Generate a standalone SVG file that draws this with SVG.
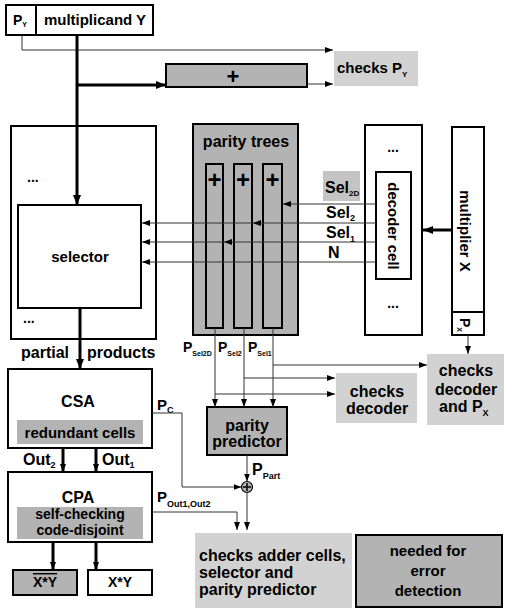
<svg xmlns="http://www.w3.org/2000/svg" width="506" height="612" viewBox="0 0 506 612">
<style>
text{font-family:"Liberation Sans",Arial,sans-serif;font-weight:bold;fill:#000}
.box{fill:#fff;stroke:#000;stroke-width:2}
.dk{fill:#b3b3b3;stroke:#000;stroke-width:2}
.lt{fill:#d2d2d2;stroke:none}
.mg{fill:#b3b3b3;stroke:none}
.ln{fill:none;stroke:#333;stroke-width:1}
.th{fill:none;stroke:#000;stroke-width:3}
.c{text-anchor:middle}
</style>
<defs>
<marker id="a" markerUnits="userSpaceOnUse" markerWidth="8" markerHeight="6" refX="8" refY="3" orient="auto"><path d="M0,0L8,3L0,6z" fill="#000"/></marker>
<marker id="b" markerUnits="userSpaceOnUse" markerWidth="10" markerHeight="8" refX="10" refY="4" orient="auto"><path d="M0,0L10,4L0,8z" fill="#000"/></marker>
</defs>

<g id="py"><rect class="box" x="6" y="5" width="30" height="30"/><text x="13" y="25" font-size="14">P<tspan font-size="7" dy="2">Y</tspan></text></g>
<g id="multiplicand"><rect class="box" x="36" y="5" width="117" height="30"/><text class="c" x="95" y="25" font-size="15">multiplicand Y</text></g>
<g id="plusbox"><rect class="dk" x="166" y="64" width="141" height="23"/><text class="c" x="233" y="84" font-size="22">+</text></g>
<g id="checkspy"><rect class="lt" x="334" y="51" width="84" height="35"/><text x="337" y="73" font-size="15">checks P<tspan font-size="8" dy="4">Y</tspan></text></g>

<g id="selarray"><rect class="box" x="11" y="126" width="145" height="213"/><text x="27" y="182" font-size="14">...</text><text x="23" y="323" font-size="14">...</text></g>
<g id="selector"><rect class="box" x="18" y="205" width="123" height="103"/><text class="c" x="80" y="262" font-size="15">selector</text></g>
<g id="pplabel"><text x="21" y="358" font-size="16">partial</text><text x="87" y="358" font-size="16">products</text></g>

<g id="paritytrees"><rect class="dk" x="193" y="124" width="105" height="211"/><text class="c" x="246" y="147" font-size="16">parity trees</text>
<rect class="dk" x="206" y="164" width="17" height="164"/><rect class="dk" x="234" y="164" width="18" height="164"/><rect class="dk" x="263" y="164" width="19" height="164"/>
<text class="c" x="214.5" y="188" font-size="24">+</text><text class="c" x="243" y="188" font-size="24">+</text><text class="c" x="272.5" y="188" font-size="24">+</text></g>

<g id="decoder"><rect class="box" x="365" y="125" width="57" height="210"/><text class="c" x="393" y="152" font-size="14">...</text><text class="c" x="393" y="308" font-size="14">...</text>
<rect class="box" x="376" y="172" width="35" height="107"/><text class="c" transform="translate(388,226) rotate(90)" font-size="15">decoder cell</text></g>
<g id="multx"><rect class="box" x="452" y="127" width="32" height="208"/><line x1="452" y1="312" x2="484" y2="312" stroke="#000" stroke-width="2"/>
<text class="c" transform="translate(460,231) rotate(90)" font-size="15">multiplier X</text>
<text transform="translate(460,318) rotate(90)" font-size="14">P<tspan font-size="7" dy="3">X</tspan></text></g>

<g id="sel2d"><rect fill="#c4c4c4" x="323" y="171" width="37" height="30"/><text x="325" y="193" font-size="16">Sel<tspan font-size="8" dy="3">2D</tspan></text></g>
<g id="sellabels"><text x="326" y="218" font-size="16">Sel<tspan font-size="9" dy="3">2</tspan></text><text x="326" y="238" font-size="16">Sel<tspan font-size="9" dy="4">1</tspan></text><text x="328" y="258" font-size="16">N</text></g>

<g id="plabels"><text x="183" y="352" font-size="14">P<tspan font-size="7" dy="4">Sel2D</tspan></text><text x="218" y="352" font-size="14">P<tspan font-size="7" dy="4">Sel2</tspan></text><text x="248" y="352" font-size="14">P<tspan font-size="7" dy="4">Sel1</tspan></text></g>

<g id="checksdec"><rect class="lt" x="336" y="373" width="81" height="50"/><text class="c" x="377" y="397" font-size="16">checks</text><text class="c" x="377" y="414" font-size="16">decoder</text></g>
<g id="checksdecpx"><rect class="lt" x="427" y="354" width="77" height="71"/><text class="c" x="466" y="376" font-size="16">checks</text><text class="c" x="466" y="395" font-size="16">decoder</text><text x="439" y="412" font-size="16">and P<tspan font-size="9" dy="4">X</tspan></text></g>

<g id="predictor"><rect class="dk" x="207" y="407" width="80" height="48"/><text class="c" x="247" y="431" font-size="16">parity</text><text class="c" x="247" y="447" font-size="16">predictor</text></g>

<g id="csa"><rect class="box" x="8" y="369" width="144" height="79"/><text class="c" x="78" y="407" font-size="16">CSA</text><rect class="mg" x="17" y="420" width="126" height="24"/><text class="c" x="80" y="438" font-size="15">redundant cells</text></g>
<g id="outlabels"><text x="23" y="465" font-size="16">Out<tspan font-size="9" dy="3">2</tspan></text><text x="102" y="465" font-size="16">Out<tspan font-size="9" dy="3">1</tspan></text></g>
<g id="cpa"><rect class="box" x="8" y="472" width="144" height="70"/><text class="c" x="78" y="503" font-size="16">CPA</text><rect class="mg" x="17" y="507" width="126" height="32"/><text class="c" x="80" y="519" font-size="14">self-checking</text><text class="c" x="80" y="535" font-size="14">code-disjoint</text></g>
<g id="xyneg"><rect class="dk" x="13" y="570" width="64" height="25"/><text class="c" x="45" y="587" font-size="14" style="text-decoration:overline">X*Y</text></g>
<g id="xy"><rect class="box" x="88" y="570" width="64" height="25"/><text class="c" x="120" y="587" font-size="14">X*Y</text></g>

<g id="pc"><text x="157" y="410" font-size="15">P<tspan font-size="9" dy="3">C</tspan></text></g>
<g id="pout"><text x="157" y="502" font-size="15">P<tspan font-size="9" dy="5">Out1,Out2</tspan></text></g>
<g id="ppart"><text x="252" y="475" font-size="16">P<tspan font-size="9" dy="4">Part</tspan></text></g>
<g id="xor"><circle cx="247" cy="487" r="5.5" fill="#b3b3b3" stroke="#000" stroke-width="1.2"/><path d="M243,487H251M247,483V491" stroke="#000" stroke-width="1.5"/></g>

<g id="checksadder"><rect class="lt" x="195" y="533" width="157" height="75"/><text x="199" y="561" font-size="16">checks adder cells,</text><text x="199" y="578" font-size="16">selector and</text><text x="199" y="595" font-size="16">parity predictor</text></g>
<g id="needed"><rect class="dk" x="356" y="535" width="146" height="72"/><text class="c" x="428" y="556" font-size="15">needed for</text><text class="c" x="428" y="576" font-size="15">error</text><text class="c" x="428" y="596" font-size="15">detection</text></g>

<g id="connectors">
<path class="ln" d="M22,35V50H333" stroke="#000" marker-end="url(#a)"/>
<path class="th" d="M77,35V205" marker-end="url(#b)"/>
<path class="th" d="M77,85H166" marker-end="url(#b)"/>
<path class="ln" d="M307,84H333" marker-end="url(#a)"/>
<path class="ln" d="M376,204H283" marker-end="url(#a)"/>
<path class="ln" d="M376,223H253" marker-end="url(#a)"/>
<path class="ln" d="M253,223H142" marker-end="url(#a)"/>
<path class="ln" d="M376,242H224" marker-end="url(#a)"/>
<path class="ln" d="M224,242H142" marker-end="url(#a)"/>
<path class="ln" d="M376,262H142" marker-end="url(#a)"/>
<path class="th" d="M452,230H423" marker-end="url(#b)"/>
<path class="ln" d="M468,335V354" marker-end="url(#a)"/>
<path class="th" d="M80,308V369" marker-end="url(#b)"/>
<path class="ln" d="M215,328V407" marker-end="url(#a)"/>
<path class="ln" d="M244,328V407" marker-end="url(#a)"/>
<path class="ln" d="M273,328V407" marker-end="url(#a)"/>
<path class="ln" d="M273,365H427" marker-end="url(#a)"/>
<path class="ln" d="M244,378H335" marker-end="url(#a)"/>
<path class="ln" d="M215,394H335" marker-end="url(#a)"/>
<path class="th" d="M63,448V472" stroke-width="2" marker-end="url(#a)"/>
<path class="th" d="M96,448V472" stroke-width="2" marker-end="url(#a)"/>
<path class="th" d="M53,542V570" stroke-width="2" marker-end="url(#a)"/>
<path class="th" d="M96,542V570" stroke-width="2" marker-end="url(#a)"/>
<path class="ln" d="M152,413H182V487H241.5" marker-end="url(#a)"/>
<path class="ln" d="M247,455V481.5" marker-end="url(#a)"/>
<path class="ln" d="M152,512H237V530" marker-end="url(#a)"/>
<path class="ln" d="M247,492.5V530" marker-end="url(#a)"/>
</g>
</svg>
